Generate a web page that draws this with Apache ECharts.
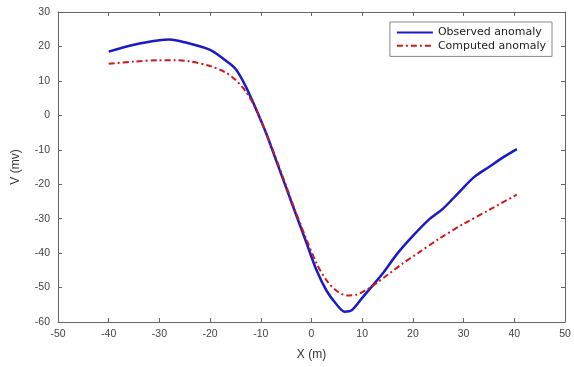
<!DOCTYPE html>
<html>
<head>
<meta charset="utf-8">
<script src="https://cdn.jsdelivr.net/npm/echarts@6/dist/echarts.min.js"></script>
<style>html,body{margin:0;padding:0;background:#fff}#c{width:574px;height:367px}</style>
</head>
<body>
<div id="c"></div>
<script>
var xTicks = [-50, -40, -30, -20, -10, 0, 10, 20, 30, 40, 50];
var yTicks = [-60, -50, -40, -30, -20, -10, 0, 10, 20, 30];
var observedX = [-40, -35, -30, -28, -25, -20, -17, -15, -13, -11, -9, -7, -5, -3, -1, 1, 3, 5, 6.5, 8, 10, 12, 14, 17, 20, 23, 26, 29, 32, 35, 38, 40.5];
var observedY = [18.5, 20.5, 21.8, 22, 21.2, 19, 16, 13.5, 8.5, 2, -5, -13, -21, -29, -37, -45, -51, -55, -57, -56.5, -53, -49.5, -46, -40, -35, -30.5, -27, -22.5, -18, -15, -12, -9.8];
var computedX = [-40, -35, -30, -27, -24, -20, -17, -15, -13, -11, -9, -7, -5, -3, -1, 1, 3, 5, 7, 9, 11, 13, 15, 18, 21, 25, 30, 35, 40.5];
var computedY = [15, 15.6, 16, 16, 15.7, 14.3, 12.5, 10.3, 7, 2, -5, -12.5, -20.5, -28.5, -36, -43, -48, -51, -52.3, -52, -50.5, -48.5, -46.3, -43, -40, -36, -31.5, -27.5, -23];
var seriesNames = ['Observed anomaly', 'Computed anomaly'];

function pairs(xs, ys) { return xs.map(function (x, i) { return [x, ys[i]]; }); }

var chart = echarts.init(document.getElementById('c'), null, {renderer: 'canvas'});
var axisColor = '#666';
var labelColor = '#444';
var fontFamily = 'Liberation Sans, Arial, sans-serif';
chart.setOption({
  animation: false,
  backgroundColor: '#fff',
  grid: {left: 58, right: 9, top: 12, bottom: 45, containLabel: false},
  legend: {
    right: 22, top: 22,
    orient: 'vertical',
    itemWidth: 36, itemHeight: 14, itemGap: 2,
    padding: [5, 6, 5, 6],
    borderColor: '#888', borderWidth: 1,
    backgroundColor: '#fff',
    itemStyle: {opacity: 0},
    textStyle: {fontFamily: 'DejaVu Sans, sans-serif', fontSize: 11, color: '#222'},
    data: seriesNames
  },
  xAxis: [{
    type: 'value', min: -50, max: 50, interval: 10,
    name: 'X (m)', nameLocation: 'middle', nameGap: 27,
    nameTextStyle: {fontFamily: fontFamily, fontSize: 12, color: '#333'},
    axisLine: {show: true, onZero: false, lineStyle: {color: axisColor, width: 1}},
    axisTick: {show: true, inside: true, length: 4, lineStyle: {color: axisColor}},
    axisLabel: {fontFamily: fontFamily, fontSize: 10.5, color: labelColor, margin: 7,
      formatter: function (v) { return xTicks.indexOf(v) >= 0 ? String(v) : ''; }},
    splitLine: {show: false}
  }, {
    type: 'value', min: -50, max: 50, interval: 10, position: 'top',
    axisLine: {show: true, onZero: false, lineStyle: {color: axisColor, width: 1}},
    axisTick: {show: true, inside: true, length: 4, lineStyle: {color: axisColor}},
    axisLabel: {show: false}, splitLine: {show: false}
  }],
  yAxis: [{
    type: 'value', min: -60, max: 30, interval: 10,
    name: 'V (mv)', nameLocation: 'middle', nameGap: 36,
    nameTextStyle: {fontFamily: fontFamily, fontSize: 12, color: '#333'},
    axisLine: {show: true, onZero: false, lineStyle: {color: axisColor, width: 1}},
    axisTick: {show: true, inside: true, length: 4, lineStyle: {color: axisColor}},
    axisLabel: {fontFamily: fontFamily, fontSize: 10.5, color: labelColor, margin: 8,
      formatter: function (v) { return yTicks.indexOf(v) >= 0 ? String(v) : ''; }},
    splitLine: {show: false}
  }, {
    type: 'value', min: -60, max: 30, interval: 10, position: 'right',
    axisLine: {show: true, onZero: false, lineStyle: {color: axisColor, width: 1}},
    axisTick: {show: true, inside: true, length: 4, lineStyle: {color: axisColor}},
    axisLabel: {show: false}, splitLine: {show: false}
  }],
  series: [{
    name: seriesNames[0], type: 'line', smooth: 0.3, showSymbol: false, symbol: 'none',
    data: pairs(observedX, observedY),
    lineStyle: {color: '#1a1acc', width: 2.5},
    itemStyle: {color: '#1a1acc'}
  }, {
    name: seriesNames[1], type: 'line', smooth: 0.3, showSymbol: false, symbol: 'none',
    data: pairs(computedX, computedY),
    lineStyle: {color: '#cc1a1a', width: 2, type: [6, 3, 2, 3]},
    itemStyle: {color: '#cc1a1a'}
  }]
});
</script>
</body>
</html>
